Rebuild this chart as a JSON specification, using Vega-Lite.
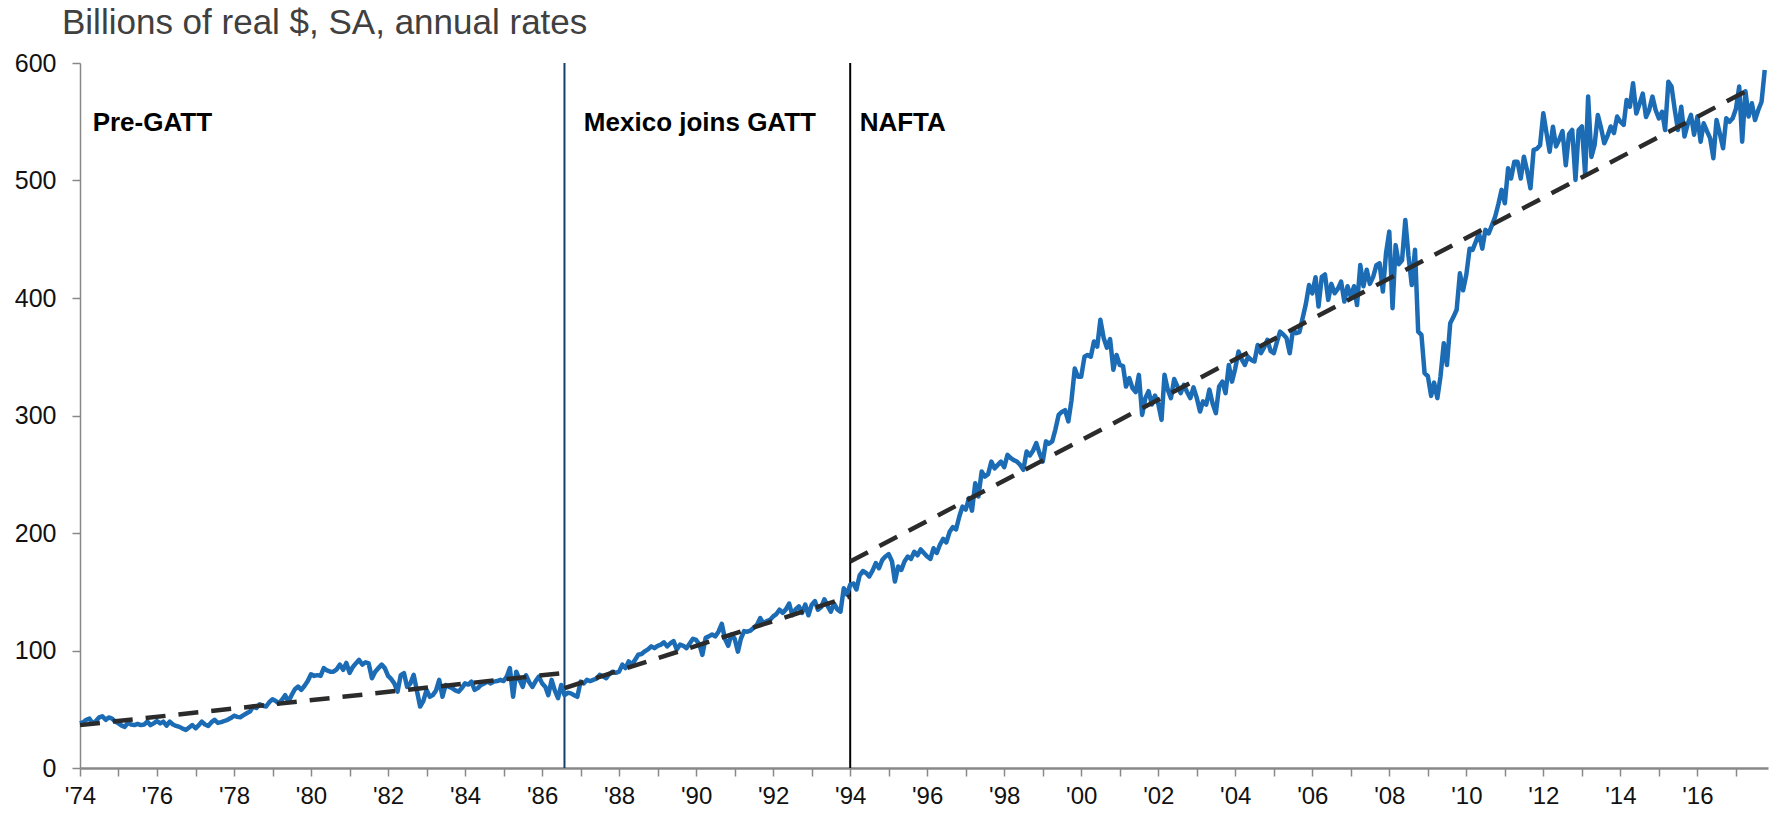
{
"$schema": "https://vega.github.io/schema/vega-lite/v6.json",
"width": 1688, "height": 705,
"autosize": {"type": "none"},
"padding": {"left": 80, "top": 63, "right": 1, "bottom": 47},
"background": "white",
"config": {"view": {"stroke": null}, "font": "Liberation Sans"},
"title": {"text": "Billions of real $, SA, annual rates", "anchor": "start", "frame": "group", "fontSize": 35, "fontWeight": "normal", "color": "#404040", "font": "Liberation Sans", "dx": -18, "offset": 0, "dy": 18, "baseline": "alphabetic"},
"datasets": {
"series": [
{"d":"1974-01","v":38},{"d":"1974-02","v":39},{"d":"1974-03","v":41},{"d":"1974-04","v":42},{"d":"1974-05","v":38},{"d":"1974-06","v":40},{"d":"1974-07","v":43},{"d":"1974-08","v":44},{"d":"1974-09","v":41},{"d":"1974-10","v":43},{"d":"1974-11","v":42},{"d":"1974-12","v":39.5},
{"d":"1975-01","v":38},{"d":"1975-02","v":36},{"d":"1975-03","v":35},{"d":"1975-04","v":38.5},{"d":"1975-05","v":37},{"d":"1975-06","v":36.5},{"d":"1975-07","v":37.5},{"d":"1975-08","v":36.5},{"d":"1975-09","v":37},{"d":"1975-10","v":39.5},{"d":"1975-11","v":36.5},{"d":"1975-12","v":38},
{"d":"1976-01","v":40},{"d":"1976-02","v":38},{"d":"1976-03","v":39.5},{"d":"1976-04","v":36},{"d":"1976-05","v":39.5},{"d":"1976-06","v":37},{"d":"1976-07","v":35.8},{"d":"1976-08","v":35},{"d":"1976-09","v":33.5},{"d":"1976-10","v":32.4},{"d":"1976-11","v":34.5},{"d":"1976-12","v":36.6},
{"d":"1977-01","v":33.8},{"d":"1977-02","v":36.5},{"d":"1977-03","v":39.5},{"d":"1977-04","v":37},{"d":"1977-05","v":35.8},{"d":"1977-06","v":39},{"d":"1977-07","v":41},{"d":"1977-08","v":38.4},{"d":"1977-09","v":39},{"d":"1977-10","v":40},{"d":"1977-11","v":41},{"d":"1977-12","v":42.5},
{"d":"1978-01","v":44.5},{"d":"1978-02","v":43.5},{"d":"1978-03","v":43.2},{"d":"1978-04","v":45},{"d":"1978-05","v":46.6},{"d":"1978-06","v":48},{"d":"1978-07","v":52.3},{"d":"1978-08","v":51},{"d":"1978-09","v":54.3},{"d":"1978-10","v":53},{"d":"1978-11","v":52.3},{"d":"1978-12","v":56},
{"d":"1979-01","v":58.5},{"d":"1979-02","v":57},{"d":"1979-03","v":55},{"d":"1979-04","v":58},{"d":"1979-05","v":62},{"d":"1979-06","v":56.5},{"d":"1979-07","v":62},{"d":"1979-08","v":67},{"d":"1979-09","v":69.3},{"d":"1979-10","v":66.5},{"d":"1979-11","v":70},{"d":"1979-12","v":74},
{"d":"1980-01","v":79.8},{"d":"1980-02","v":78.4},{"d":"1980-03","v":79},{"d":"1980-04","v":78.4},{"d":"1980-05","v":85},{"d":"1980-06","v":83},{"d":"1980-07","v":82},{"d":"1980-08","v":82},{"d":"1980-09","v":84},{"d":"1980-10","v":88},{"d":"1980-11","v":83.6},{"d":"1980-12","v":89.4},
{"d":"1981-01","v":81},{"d":"1981-02","v":86},{"d":"1981-03","v":89},{"d":"1981-04","v":92},{"d":"1981-05","v":88},{"d":"1981-06","v":90},{"d":"1981-07","v":89},{"d":"1981-08","v":76.4},{"d":"1981-09","v":82},{"d":"1981-10","v":85},{"d":"1981-11","v":88},{"d":"1981-12","v":85},
{"d":"1982-01","v":78.4},{"d":"1982-02","v":75.6},{"d":"1982-03","v":72},{"d":"1982-04","v":65},{"d":"1982-05","v":79},{"d":"1982-06","v":80.7},{"d":"1982-07","v":69},{"d":"1982-08","v":72},{"d":"1982-09","v":79.3},{"d":"1982-10","v":66},{"d":"1982-11","v":52.3},{"d":"1982-12","v":57},
{"d":"1983-01","v":66.5},{"d":"1983-02","v":60.6},{"d":"1983-03","v":62},{"d":"1983-04","v":66},{"d":"1983-05","v":75},{"d":"1983-06","v":60.6},{"d":"1983-07","v":70.7},{"d":"1983-08","v":69},{"d":"1983-09","v":68},{"d":"1983-10","v":66},{"d":"1983-11","v":65},{"d":"1983-12","v":68},
{"d":"1984-01","v":72},{"d":"1984-02","v":71},{"d":"1984-03","v":73.5},{"d":"1984-04","v":66.5},{"d":"1984-05","v":68},{"d":"1984-06","v":70.7},{"d":"1984-07","v":72},{"d":"1984-08","v":73.5},{"d":"1984-09","v":72},{"d":"1984-10","v":73.5},{"d":"1984-11","v":74},{"d":"1984-12","v":75},
{"d":"1985-01","v":74},{"d":"1985-02","v":78},{"d":"1985-03","v":85},{"d":"1985-04","v":60.6},{"d":"1985-05","v":82},{"d":"1985-06","v":75},{"d":"1985-07","v":69},{"d":"1985-08","v":79},{"d":"1985-09","v":73},{"d":"1985-10","v":69},{"d":"1985-11","v":74},{"d":"1985-12","v":77.8},
{"d":"1986-01","v":72},{"d":"1986-02","v":69},{"d":"1986-03","v":62},{"d":"1986-04","v":75},{"d":"1986-05","v":66},{"d":"1986-06","v":59.4},{"d":"1986-07","v":70.7},{"d":"1986-08","v":62},{"d":"1986-09","v":64},{"d":"1986-10","v":63.5},{"d":"1986-11","v":62},{"d":"1986-12","v":60.6},
{"d":"1987-01","v":73.5},{"d":"1987-02","v":72},{"d":"1987-03","v":75},{"d":"1987-04","v":74},{"d":"1987-05","v":75},{"d":"1987-06","v":76},{"d":"1987-07","v":79.3},{"d":"1987-08","v":78},{"d":"1987-09","v":76.4},{"d":"1987-10","v":80},{"d":"1987-11","v":82},{"d":"1987-12","v":81},
{"d":"1988-01","v":82},{"d":"1988-02","v":88},{"d":"1988-03","v":85},{"d":"1988-04","v":90.7},{"d":"1988-05","v":88},{"d":"1988-06","v":92},{"d":"1988-07","v":96.4},{"d":"1988-08","v":97},{"d":"1988-09","v":99.3},{"d":"1988-10","v":101},{"d":"1988-11","v":103.5},{"d":"1988-12","v":102},
{"d":"1989-01","v":104},{"d":"1989-02","v":105},{"d":"1989-03","v":107},{"d":"1989-04","v":103.5},{"d":"1989-05","v":106},{"d":"1989-06","v":108},{"d":"1989-07","v":100.8},{"d":"1989-08","v":105},{"d":"1989-09","v":104},{"d":"1989-10","v":102},{"d":"1989-11","v":106},{"d":"1989-12","v":110},
{"d":"1990-01","v":109},{"d":"1990-02","v":105},{"d":"1990-03","v":96.3},{"d":"1990-04","v":110.8},{"d":"1990-05","v":112},{"d":"1990-06","v":113.6},{"d":"1990-07","v":112},{"d":"1990-08","v":116},{"d":"1990-09","v":122.7},{"d":"1990-10","v":110},{"d":"1990-11","v":104},{"d":"1990-12","v":113.6},
{"d":"1991-01","v":110},{"d":"1991-02","v":99},{"d":"1991-03","v":110},{"d":"1991-04","v":116.5},{"d":"1991-05","v":116},{"d":"1991-06","v":117},{"d":"1991-07","v":119.3},{"d":"1991-08","v":122},{"d":"1991-09","v":127.6},{"d":"1991-10","v":123},{"d":"1991-11","v":125},{"d":"1991-12","v":126},
{"d":"1992-01","v":129},{"d":"1992-02","v":131},{"d":"1992-03","v":134.7},{"d":"1992-04","v":132},{"d":"1992-05","v":135},{"d":"1992-06","v":140},{"d":"1992-07","v":130},{"d":"1992-08","v":135},{"d":"1992-09","v":137.6},{"d":"1992-10","v":132},{"d":"1992-11","v":139},{"d":"1992-12","v":130},
{"d":"1993-01","v":139},{"d":"1993-02","v":142},{"d":"1993-03","v":134.7},{"d":"1993-04","v":137},{"d":"1993-05","v":143.5},{"d":"1993-06","v":138},{"d":"1993-07","v":133},{"d":"1993-08","v":140},{"d":"1993-09","v":135},{"d":"1993-10","v":133},{"d":"1993-11","v":153},{"d":"1993-12","v":147.6},
{"d":"1994-01","v":156},{"d":"1994-02","v":157},{"d":"1994-03","v":152},{"d":"1994-04","v":164},{"d":"1994-05","v":167.6},{"d":"1994-06","v":166},{"d":"1994-07","v":163},{"d":"1994-08","v":168},{"d":"1994-09","v":174.4},{"d":"1994-10","v":170},{"d":"1994-11","v":177},{"d":"1994-12","v":180},
{"d":"1995-01","v":182},{"d":"1995-02","v":176},{"d":"1995-03","v":158.8},{"d":"1995-04","v":171.5},{"d":"1995-05","v":168.6},{"d":"1995-06","v":176},{"d":"1995-07","v":180},{"d":"1995-08","v":178},{"d":"1995-09","v":184},{"d":"1995-10","v":181},{"d":"1995-11","v":186},{"d":"1995-12","v":183},
{"d":"1996-01","v":180},{"d":"1996-02","v":178},{"d":"1996-03","v":187},{"d":"1996-04","v":183},{"d":"1996-05","v":190},{"d":"1996-06","v":195},{"d":"1996-07","v":192},{"d":"1996-08","v":201},{"d":"1996-09","v":205},{"d":"1996-10","v":203},{"d":"1996-11","v":214},{"d":"1996-12","v":222.5},
{"d":"1997-01","v":220},{"d":"1997-02","v":229.7},{"d":"1997-03","v":219},{"d":"1997-04","v":242.4},{"d":"1997-05","v":231},{"d":"1997-06","v":252.3},{"d":"1997-07","v":248},{"d":"1997-08","v":250},{"d":"1997-09","v":260.8},{"d":"1997-10","v":255},{"d":"1997-11","v":258},{"d":"1997-12","v":260.8},
{"d":"1998-01","v":256},{"d":"1998-02","v":266.5},{"d":"1998-03","v":264},{"d":"1998-04","v":262},{"d":"1998-05","v":260.8},{"d":"1998-06","v":258},{"d":"1998-07","v":253.8},{"d":"1998-08","v":269.3},{"d":"1998-09","v":266},{"d":"1998-10","v":270},{"d":"1998-11","v":276.5},{"d":"1998-12","v":268},
{"d":"1999-01","v":260.8},{"d":"1999-02","v":278},{"d":"1999-03","v":276},{"d":"1999-04","v":278},{"d":"1999-05","v":288},{"d":"1999-06","v":300.5},{"d":"1999-07","v":303},{"d":"1999-08","v":304.5},{"d":"1999-09","v":295},{"d":"1999-10","v":313},{"d":"1999-11","v":340},{"d":"1999-12","v":333},
{"d":"2000-01","v":333},{"d":"2000-02","v":350},{"d":"2000-03","v":351.5},{"d":"2000-04","v":350},{"d":"2000-05","v":363},{"d":"2000-06","v":358.6},{"d":"2000-07","v":381.4},{"d":"2000-08","v":366},{"d":"2000-09","v":357.7},{"d":"2000-10","v":365},{"d":"2000-11","v":339},{"d":"2000-12","v":351.5},
{"d":"2001-01","v":343},{"d":"2001-02","v":342},{"d":"2001-03","v":324.6},{"d":"2001-04","v":331.8},{"d":"2001-05","v":323.4},{"d":"2001-06","v":320},{"d":"2001-07","v":334.6},{"d":"2001-08","v":300.5},{"d":"2001-09","v":315},{"d":"2001-10","v":320.7},{"d":"2001-11","v":309.3},{"d":"2001-12","v":317},
{"d":"2002-01","v":310},{"d":"2002-02","v":296.3},{"d":"2002-03","v":334.6},{"d":"2002-04","v":322},{"d":"2002-05","v":314.8},{"d":"2002-06","v":331},{"d":"2002-07","v":325},{"d":"2002-08","v":319},{"d":"2002-09","v":326},{"d":"2002-10","v":320},{"d":"2002-11","v":314.8},{"d":"2002-12","v":324},
{"d":"2003-01","v":315},{"d":"2003-02","v":303.4},{"d":"2003-03","v":312},{"d":"2003-04","v":309.3},{"d":"2003-05","v":322},{"d":"2003-06","v":310},{"d":"2003-07","v":302},{"d":"2003-08","v":324.6},{"d":"2003-09","v":328.8},{"d":"2003-10","v":319},{"d":"2003-11","v":343},{"d":"2003-12","v":328.8},
{"d":"2004-01","v":340},{"d":"2004-02","v":354.4},{"d":"2004-03","v":348},{"d":"2004-04","v":343},{"d":"2004-05","v":350},{"d":"2004-06","v":347.3},{"d":"2004-07","v":346},{"d":"2004-08","v":360},{"d":"2004-09","v":353},{"d":"2004-10","v":358},{"d":"2004-11","v":364.4},{"d":"2004-12","v":355},
{"d":"2005-01","v":353},{"d":"2005-02","v":363},{"d":"2005-03","v":371.4},{"d":"2005-04","v":369},{"d":"2005-05","v":366},{"d":"2005-06","v":353},{"d":"2005-07","v":372.6},{"d":"2005-08","v":370},{"d":"2005-09","v":371},{"d":"2005-10","v":382.8},{"d":"2005-11","v":395},{"d":"2005-12","v":411},
{"d":"2006-01","v":404},{"d":"2006-02","v":417.7},{"d":"2006-03","v":392.7},{"d":"2006-04","v":418},{"d":"2006-05","v":420},{"d":"2006-06","v":398.4},{"d":"2006-07","v":412},{"d":"2006-08","v":404},{"d":"2006-09","v":408},{"d":"2006-10","v":414},{"d":"2006-11","v":397},{"d":"2006-12","v":410},
{"d":"2007-01","v":401},{"d":"2007-02","v":410},{"d":"2007-03","v":394},{"d":"2007-04","v":428},{"d":"2007-05","v":410},{"d":"2007-06","v":424},{"d":"2007-07","v":412},{"d":"2007-08","v":418},{"d":"2007-09","v":428},{"d":"2007-10","v":429.5},{"d":"2007-11","v":405.5},{"d":"2007-12","v":438},
{"d":"2008-01","v":456.5},{"d":"2008-02","v":391.3},{"d":"2008-03","v":445},{"d":"2008-04","v":428.8},{"d":"2008-05","v":432},{"d":"2008-06","v":466.4},{"d":"2008-07","v":436},{"d":"2008-08","v":411},{"d":"2008-09","v":441},{"d":"2008-10","v":371.4},{"d":"2008-11","v":368.6},{"d":"2008-12","v":336},
{"d":"2009-01","v":333.4},{"d":"2009-02","v":316.7},{"d":"2009-03","v":328},{"d":"2009-04","v":314.8},{"d":"2009-05","v":333.4},{"d":"2009-06","v":361.5},{"d":"2009-07","v":343},{"d":"2009-08","v":378.5},{"d":"2009-09","v":384},{"d":"2009-10","v":390},{"d":"2009-11","v":421},{"d":"2009-12","v":406.6},
{"d":"2010-01","v":420},{"d":"2010-02","v":442},{"d":"2010-03","v":441},{"d":"2010-04","v":448},{"d":"2010-05","v":455},{"d":"2010-06","v":442},{"d":"2010-07","v":458},{"d":"2010-08","v":455},{"d":"2010-09","v":462},{"d":"2010-10","v":469.2},{"d":"2010-11","v":480},{"d":"2010-12","v":492},
{"d":"2011-01","v":480.6},{"d":"2011-02","v":510.4},{"d":"2011-03","v":501.7},{"d":"2011-04","v":516},{"d":"2011-05","v":516},{"d":"2011-06","v":501.7},{"d":"2011-07","v":520.3},{"d":"2011-08","v":508},{"d":"2011-09","v":493.4},{"d":"2011-10","v":526},{"d":"2011-11","v":527},{"d":"2011-12","v":530},
{"d":"2012-01","v":557.2},{"d":"2012-02","v":540},{"d":"2012-03","v":524.5},{"d":"2012-04","v":545.8},{"d":"2012-05","v":529},{"d":"2012-06","v":535},{"d":"2012-07","v":542},{"d":"2012-08","v":513},{"d":"2012-09","v":539.5},{"d":"2012-10","v":543},{"d":"2012-11","v":500.5},{"d":"2012-12","v":543},
{"d":"2013-01","v":546},{"d":"2013-02","v":504.8},{"d":"2013-03","v":571.4},{"d":"2013-04","v":520},{"d":"2013-05","v":530},{"d":"2013-06","v":555.8},{"d":"2013-07","v":545},{"d":"2013-08","v":531.7},{"d":"2013-09","v":538},{"d":"2013-10","v":546},{"d":"2013-11","v":540.4},{"d":"2013-12","v":554.4},
{"d":"2014-01","v":550},{"d":"2014-02","v":547.3},{"d":"2014-03","v":568.5},{"d":"2014-04","v":562.7},{"d":"2014-05","v":582.7},{"d":"2014-06","v":557},{"d":"2014-07","v":565},{"d":"2014-08","v":574},{"d":"2014-09","v":554},{"d":"2014-10","v":560},{"d":"2014-11","v":571.4},{"d":"2014-12","v":560},
{"d":"2015-01","v":552.8},{"d":"2015-02","v":558.5},{"d":"2015-03","v":543},{"d":"2015-04","v":584},{"d":"2015-05","v":580},{"d":"2015-06","v":560},{"d":"2015-07","v":543},{"d":"2015-08","v":562.7},{"d":"2015-09","v":537.5},{"d":"2015-10","v":548},{"d":"2015-11","v":555.8},{"d":"2015-12","v":539},
{"d":"2016-01","v":554.4},{"d":"2016-02","v":533},{"d":"2016-03","v":548.7},{"d":"2016-04","v":542},{"d":"2016-05","v":536},{"d":"2016-06","v":519},{"d":"2016-07","v":551.5},{"d":"2016-08","v":540},{"d":"2016-09","v":527.4},{"d":"2016-10","v":553},{"d":"2016-11","v":550},{"d":"2016-12","v":553},
{"d":"2017-01","v":561},{"d":"2017-02","v":580},{"d":"2017-03","v":533},{"d":"2017-04","v":576},{"d":"2017-05","v":554.4},{"d":"2017-06","v":565.7},{"d":"2017-07","v":551.5},{"d":"2017-08","v":560},{"d":"2017-09","v":567},{"d":"2017-10","v":594}
],
"trend": [
{"d":"1974-01","v":36.5,"s":1},{"d":"1986-08","v":81,"s":1},
{"d":"1986-08","v":68,"s":2},{"d":"1994-01","v":146,"s":2},
{"d":"1994-01","v":175.8,"s":3},{"d":"2017-07","v":580,"s":3}
],
"events": [{"d":"1986-08","e":"gatt"},{"d":"1994-01","e":"nafta"}],
"labels": [
{"d":"1974-05","v":542,"label":"Pre-GATT"},
{"d":"1987-02","v":542,"label":"Mexico joins GATT"},
{"d":"1994-04","v":542,"label":"NAFTA"}
]
},
"layer": [
{"data": {"name": "events", "format": {"parse": {"d": "date:'%Y-%m'"}}},
 "mark": {"type": "rule", "strokeWidth": 2},
 "encoding": {
  "x": {"field": "d", "type": "temporal", "title": null,
   "scale": {"domain": [{"year": 1974, "month": 1, "date": 1}, {"year": 2017, "month": 11, "date": 1}], "nice": false},
   "axis": {"tickCount": {"interval": "year", "step": 1}, "labelExpr": "year(datum.value) % 2 == 0 ? \"'\" + timeFormat(datum.value, '%y') : ''", "labelFontSize": 24, "labelColor": "#111111", "labelPadding": 8, "tickSize": 8, "tickColor": "#888888", "tickWidth": 1.5, "domainColor": "#888888", "domainWidth": 2.5, "grid": false, "labelOverlap": false, "labelFlush": false, "labelBound": false, "labelFont": "Liberation Sans"}},
  "color": {"field": "e", "type": "nominal", "scale": {"domain": ["gatt", "nafta"], "range": ["#133f6e", "#000000"]}, "legend": null}}},
{"data": {"name": "series", "format": {"parse": {"d": "date:'%Y-%m'"}}},
 "mark": {"type": "line", "color": "#1b6cb5", "strokeWidth": 4.5, "strokeJoin": "round"},
 "encoding": {
  "x": {"field": "d", "type": "temporal", "title": null,
   "scale": {"domain": [{"year": 1974, "month": 1, "date": 1}, {"year": 2017, "month": 11, "date": 1}], "nice": false},
   "axis": {"tickCount": {"interval": "year", "step": 1}, "labelExpr": "year(datum.value) % 2 == 0 ? \"'\" + timeFormat(datum.value, '%y') : ''", "labelFontSize": 24, "labelColor": "#111111", "labelPadding": 8, "tickSize": 8, "tickColor": "#888888", "tickWidth": 1.5, "domainColor": "#888888", "domainWidth": 2.5, "grid": false, "labelOverlap": false, "labelFlush": false, "labelBound": false, "labelFont": "Liberation Sans"}},
  "y": {"field": "v", "type": "quantitative", "title": null,
   "scale": {"domain": [0, 600], "nice": false},
   "axis": {"values": [0, 100, 200, 300, 400, 500, 600], "labelFontSize": 25, "labelColor": "#111111", "labelPadding": 16, "tickSize": 8, "tickColor": "#888888", "tickWidth": 1.5, "domainColor": "#888888", "domainWidth": 1.5, "grid": false, "labelFont": "Liberation Sans"}}}},
{"data": {"name": "trend", "format": {"parse": {"d": "date:'%Y-%m'"}}},
 "mark": {"type": "line", "color": "#2b2b2b", "strokeWidth": 4.5, "strokeDash": [20, 13]},
 "encoding": {
  "x": {"field": "d", "type": "temporal", "title": null,
   "scale": {"domain": [{"year": 1974, "month": 1, "date": 1}, {"year": 2017, "month": 11, "date": 1}], "nice": false},
   "axis": {"tickCount": {"interval": "year", "step": 1}, "labelExpr": "year(datum.value) % 2 == 0 ? \"'\" + timeFormat(datum.value, '%y') : ''", "labelFontSize": 24, "labelColor": "#111111", "labelPadding": 8, "tickSize": 8, "tickColor": "#888888", "tickWidth": 1.5, "domainColor": "#888888", "domainWidth": 2.5, "grid": false, "labelOverlap": false, "labelFlush": false, "labelBound": false, "labelFont": "Liberation Sans"}},
  "y": {"field": "v", "type": "quantitative", "title": null,
   "scale": {"domain": [0, 600], "nice": false},
   "axis": {"values": [0, 100, 200, 300, 400, 500, 600], "labelFontSize": 25, "labelColor": "#111111", "labelPadding": 16, "tickSize": 8, "tickColor": "#888888", "tickWidth": 1.5, "domainColor": "#888888", "domainWidth": 1.5, "grid": false, "labelFont": "Liberation Sans"}},
  "detail": {"field": "s", "type": "nominal"}}},
{"data": {"name": "labels", "format": {"parse": {"d": "date:'%Y-%m'"}}},
 "mark": {"type": "text", "align": "left", "baseline": "alphabetic", "fontSize": 26, "fontWeight": "bold", "color": "#000000", "font": "Liberation Sans"},
 "encoding": {
  "x": {"field": "d", "type": "temporal", "title": null,
   "scale": {"domain": [{"year": 1974, "month": 1, "date": 1}, {"year": 2017, "month": 11, "date": 1}], "nice": false},
   "axis": {"tickCount": {"interval": "year", "step": 1}, "labelExpr": "year(datum.value) % 2 == 0 ? \"'\" + timeFormat(datum.value, '%y') : ''", "labelFontSize": 24, "labelColor": "#111111", "labelPadding": 8, "tickSize": 8, "tickColor": "#888888", "tickWidth": 1.5, "domainColor": "#888888", "domainWidth": 2.5, "grid": false, "labelOverlap": false, "labelFlush": false, "labelBound": false, "labelFont": "Liberation Sans"}},
  "y": {"field": "v", "type": "quantitative", "title": null,
   "scale": {"domain": [0, 600], "nice": false},
   "axis": {"values": [0, 100, 200, 300, 400, 500, 600], "labelFontSize": 25, "labelColor": "#111111", "labelPadding": 16, "tickSize": 8, "tickColor": "#888888", "tickWidth": 1.5, "domainColor": "#888888", "domainWidth": 1.5, "grid": false, "labelFont": "Liberation Sans"}},
  "text": {"field": "label"}}}
]
}
